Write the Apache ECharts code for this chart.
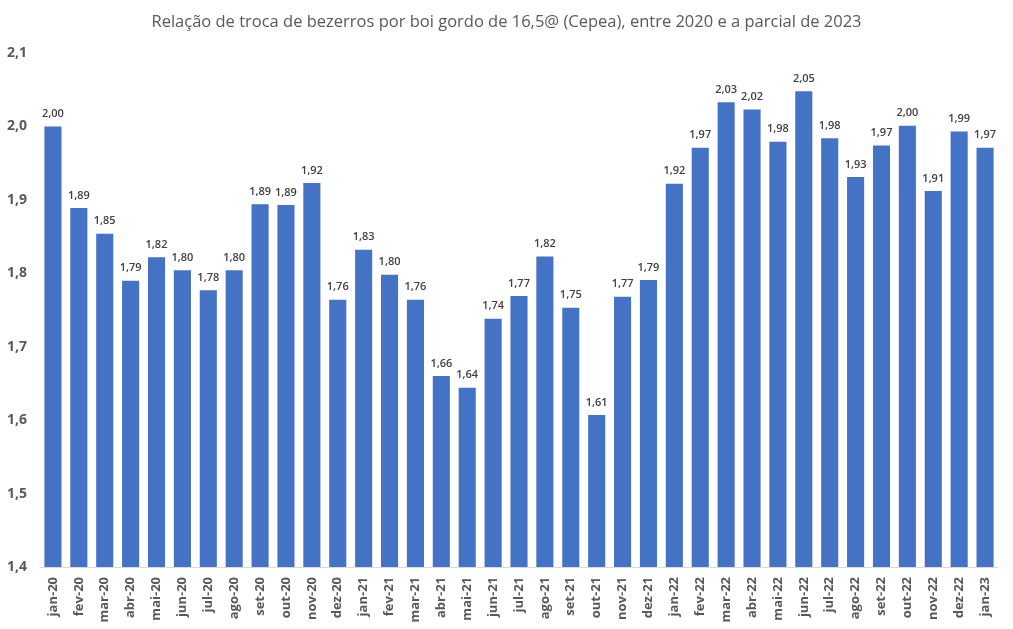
<!DOCTYPE html>
<html>
<head>
<meta charset="utf-8">
<script src="https://cdn.jsdelivr.net/npm/echarts@6/dist/echarts.min.js"></script>
<style>
  html, body { margin: 0; padding: 0; background: #fff; }
  #chart { width: 1013px; height: 629px; }
</style>
</head>
<body>
<div id="chart"></div>
<script>
const titleText = "Relação de troca de bezerros por boi gordo de 16,5@ (Cepea), entre 2020 e a parcial de 2023";

const months = [
  "jan-20", "fev-20", "mar-20", "abr-20", "mai-20", "jun-20", "jul-20", "ago-20", "set-20", "out-20", "nov-20", "dez-20",
  "jan-21", "fev-21", "mar-21", "abr-21", "mai-21", "jun-21", "jul-21", "ago-21", "set-21", "out-21", "nov-21", "dez-21",
  "jan-22", "fev-22", "mar-22", "abr-22", "mai-22", "jun-22", "jul-22", "ago-22", "set-22", "out-22", "nov-22", "dez-22",
  "jan-23"
];

// relação de troca
const ratio = [
  2.000, 1.889, 1.854, 1.790, 1.822, 1.804, 1.777, 1.804, 1.894, 1.893, 1.923, 1.764,
  1.832, 1.798, 1.764, 1.660, 1.644, 1.738, 1.769, 1.823, 1.753, 1.607, 1.768, 1.791,
  1.922, 1.971, 2.033, 2.023, 1.979, 2.048, 1.984, 1.931, 1.974, 2.001, 1.912, 1.993,
  1.971
];

const chart = echarts.init(document.getElementById("chart"));

const fmt = (v, d) => v.toFixed(d).replace(".", ",");

const options = {
  animation: false,
  title: {
    text: titleText,
    left: "center",
    top: 9,
    textStyle: {
      fontFamily: "Open Sans",
      fontSize: 16.5,
      fontWeight: "normal",
      color: "#595959",
    },
  },
  grid: {
    left: 40,
    right: 15,
    top: 53,
    bottom: 62,
  },
  xAxis: {
    type: "category",
    data: months,
    axisTick: { show: false },
    axisLine: { lineStyle: { color: "#d9d9d9" } },
    axisLabel: {
      rotate: 90,
      interval: 0,
      margin: 10,
      color: "#595959",
      fontSize: 13,
      fontWeight: "bold",
      fontFamily: "Open Sans",
    },
  },
  yAxis: {
    type: "value",
    min: 1.4,
    max: 2.1,
    interval: 0.1,
    splitLine: { show: false },
    axisLine: { show: false },
    axisTick: { show: false },
    axisLabel: {
      margin: 13,
      color: "#595959",
      fontSize: 14,
      fontWeight: "bold",
      fontFamily: "Open Sans",
      formatter: (v) => fmt(v, 1),
    },
  },
  series: [
    {
      type: "bar",
      data: ratio,
      barCategoryGap: "34%",
      itemStyle: { color: "#4472C4" },
      label: {
        show: true,
        position: "top",
        distance: 7,
        color: "#404040",
        fontSize: 11,
        fontWeight: 600,
        fontFamily: "Open Sans",
        formatter: (p) => fmt(p.value, 2),
      },
    },
  ],
};

chart.setOption(options);

window.addEventListener("resize", () => {
  chart.resize();
});
</script>
</body>
</html>
